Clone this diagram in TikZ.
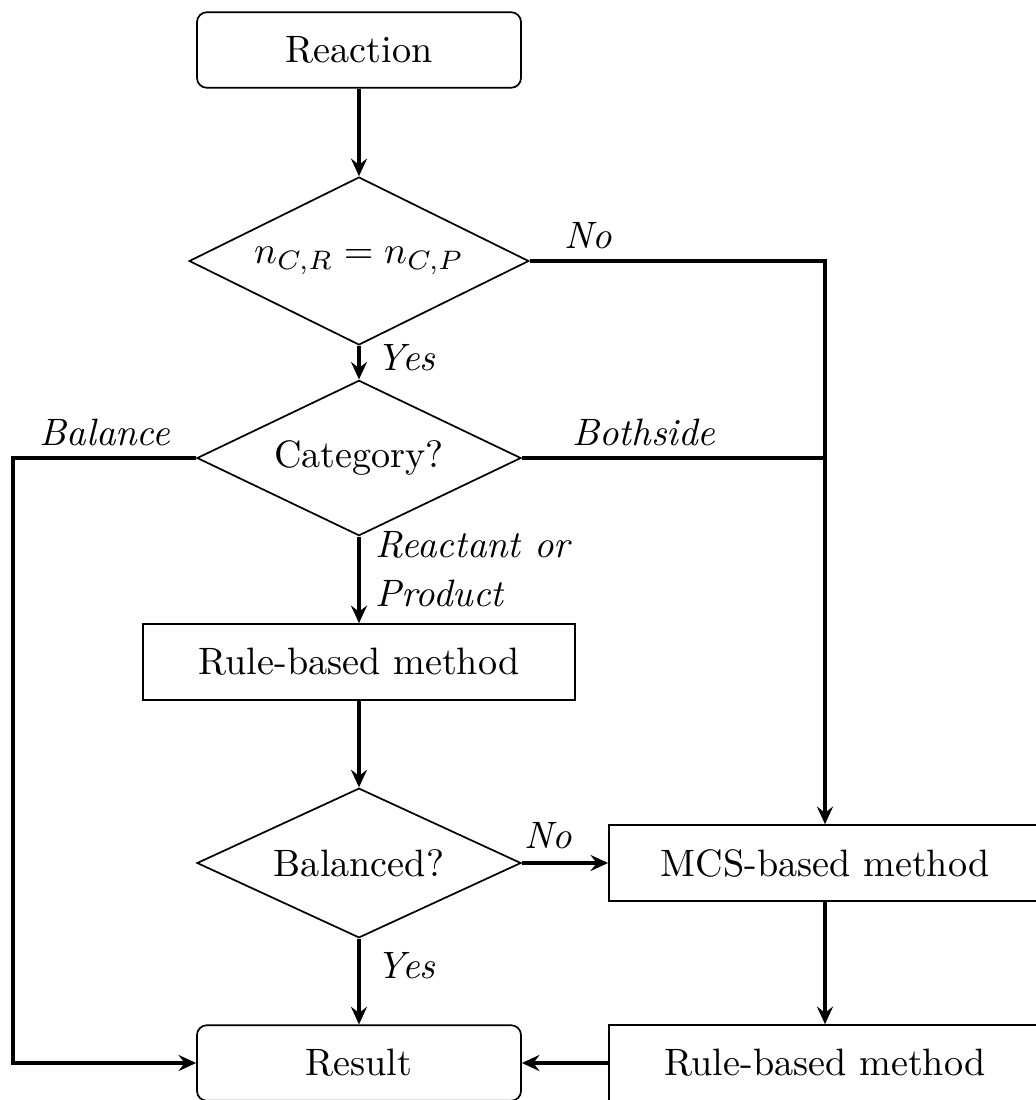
\documentclass[tikz,border=0pt]{standalone}
\usetikzlibrary{shapes.geometric,arrows.meta}
\begin{document}
\begin{tikzpicture}[x=0.262pt,y=-0.262pt,
  base/.style={draw,line width=0.45pt,inner sep=0pt,align=center},
  terminal/.style={base,rounded corners=2.6pt,minimum width=84.9pt,minimum height=19.8pt},
  process/.style={base,rectangle,minimum width=113.2pt,minimum height=19.9pt},
  decision/.style={base,diamond,aspect=2.5},
  lbl/.style={font=\itshape,inner sep=0pt},
  conn/.style={line width=0.8pt},
  flow/.style={conn,-{Stealth[length=4.6pt,width=4.2pt,inset=1.6pt]}}]
\useasboundingbox (0,0) rectangle (1036,1100);
\clip (0,0) rectangle (1036,1100);

% boxes and decisions
\node[terminal] (reaction) at (359,50) {Reaction};
\node[decision,minimum width=89pt,minimum height=44pt] (cmp) at (359,261) {$n_{C,R}=n_{C,P}$};
\node[decision,minimum width=84.9pt,minimum height=40.7pt] (cat) at (359,458) {Category?};
\node[process] (rule1) at (359,662) {Rule-based method};
\node[decision,minimum width=84.9pt,minimum height=39.2pt] (bal) at (359,863) {Balanced?};
\node[process] (mcs) at (825,863) {MCS-based method};
\node[process] (rule2) at (825,1063) {Rule-based method};
\node[terminal] (result) at (359,1063) {Result};

% bend points
\coordinate (lft) at (13,458);

% connectors
\draw[flow] (reaction) -- (cmp);
\draw[flow] (cmp.east) -| (mcs.north);
\draw[flow] (cmp) -- (cat);
\draw[flow] (cat.west) -- (lft) |- (result.west);
\draw[conn] (cat.east) -- (cat.east -| mcs.north);
\draw[flow] (cat) -- (rule1);
\draw[flow] (rule1) -- (bal);
\draw[flow] (bal) -- (mcs);
\draw[flow] (bal) -- (result);
\draw[flow] (mcs) -- (rule2);
\draw[flow] (rule2) -- (result);

% branch labels
\node[lbl] (no1) at (588,236) {No};
\node[lbl] (yes1) at (406,358) {Yes};
\node[lbl] (balance) at (105,432) {Balance};
\node[lbl] (both) at (644,432) {Bothside};
\node[lbl,anchor=west,align=left] (rp) at (375,569) {Reactant or\\[1pt]Product};
\node[lbl] (no2) at (548,836) {No};
\node[lbl] (yes2) at (406,966) {Yes};
\end{tikzpicture}
\end{document}
